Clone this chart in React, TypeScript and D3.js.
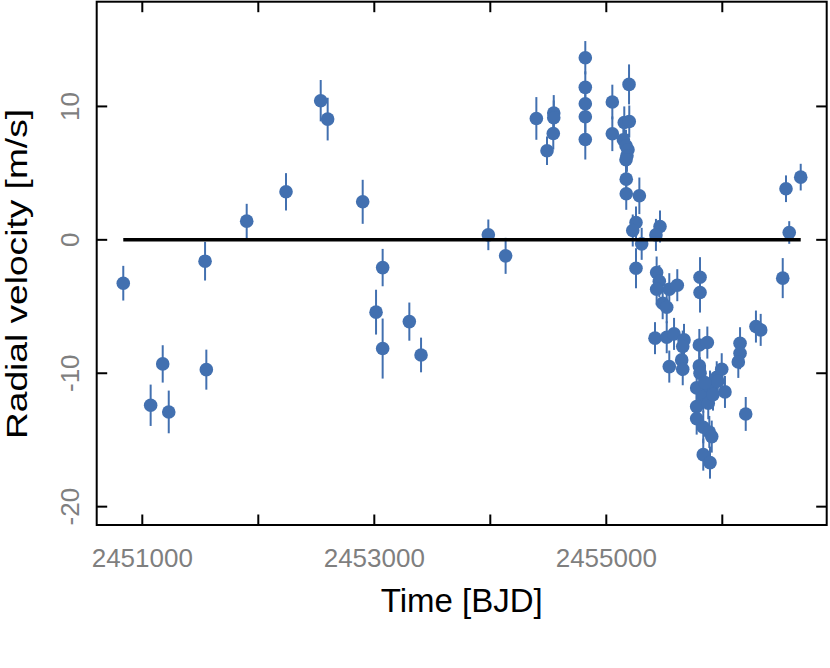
import React from "react";
import * as d3 from "d3";

// Observations: time [BJD], radial velocity [m/s], uncertainty [m/s]
const times: number[] = [
  2450836, 2451072, 2451176, 2451228, 2451541, 2451552, 2451900, 2452239, 2452538, 2452598,
  2452900, 2453015, 2453072, 2453072, 2453302, 2453403, 2453983, 2454132, 2454397, 2454489,
  2454547, 2454547, 2454543, 2454819, 2454819, 2454819, 2454819, 2454819, 2455052, 2455052,
  2455196, 2455155, 2455198, 2455147, 2455170, 2455187, 2455178, 2455170, 2455172, 2455172,
  2455285, 2455256, 2455228, 2455305, 2455463, 2455428, 2455256, 2455434, 2455457, 2455434,
  2455543, 2455612, 2455486, 2455521, 2455808, 2455808, 2455420, 2455521, 2455584, 2455670,
  2455659, 2455802, 2455871, 2455650, 2455543, 2455659, 2455802, 2455808, 2455779, 2455836,
  2455894, 2455952, 2455995, 2456023, 2455779, 2455879, 2455779, 2455836, 2455888, 2455909,
  2455836, 2455894, 2456202, 2456153, 2456153, 2456138, 2456290, 2456331, 2456549, 2456676,
  2456577, 2456521, 2455961, 2455850, 2455920,
];
const velocities: number[] = [
  -3.25, -12.4, -9.3, -12.9, -1.6, -9.73, 1.4, 3.6, 10.43, 9.05,
  2.85, -5.42, -2.08, -8.15, -6.13, -8.63, 0.375, -1.2, 9.1, 6.68,
  9.5, 9.15, 7.97, 13.65, 11.43, 10.2, 9.23, 7.52, 10.33, 7.95,
  11.65, 8.8, 8.87, 7.5, 7.05, 6.75, 6.3, 6.0, 4.55, 3.45,
  3.3, 1.3, 0.7, -0.3, 1.0, 0.37, -2.13, -2.45, -3.1, -3.7,
  -3.7, -3.4, -4.75, -5.05, -2.8, -3.95, -7.37, -7.3, -7.05, -7.5,
  -8.0, -7.88, -7.7, -9.0, -9.5, -9.7, -9.45, -10.0, -11.1, -11.75,
  -11.0, -10.3, -9.7, -11.4, -12.5, -12.25, -13.4, -14.05, -14.4, -14.75,
  -16.1, -16.7, -13.05, -7.75, -8.5, -9.15, -6.5, -6.75, 3.83, 4.7,
  0.55, -2.87, -10.6, -10.7, -11.6,
];
const errors: number[] = [
  1.3, 1.55, 1.4, 1.6, 1.45, 1.5, 1.3, 1.4, 1.55, 1.6,
  1.65, 1.68, 1.4, 2.25, 1.43, 1.3, 1.15, 1.35, 1.6, 1.07,
  1.35, 1.3, 1.2, 1.25, 1.2, 1.2, 1.2, 1.5, 1.3, 1.3,
  1.5, 1.2, 1.2, 1.2, 1.2, 1.2, 1.2, 1.2, 1.2, 1.2,
  1.37, 1.2, 1.2, 1.2, 1.2, 1.2, 1.5, 1.2, 1.2, 1.2,
  1.2, 1.2, 1.2, 1.2, 1.5, 1.5, 1.2, 1.2, 1.2, 1.2,
  1.2, 1.2, 1.2, 1.2, 1.2, 1.2, 1.2, 1.2, 1.2, 1.2,
  1.2, 1.2, 1.2, 1.2, 1.2, 1.2, 1.2, 1.2, 1.2, 1.2,
  1.2, 1.2, 1.27, 1.2, 1.2, 1.2, 1.2, 1.2, 1.0, 1.0,
  0.85, 1.5, 1.2, 1.2, 1.2,
];

const xTicks: number[] = [2451000, 2452000, 2453000, 2454000, 2455000, 2456000];
const xTickLabels: number[] = [2451000, 2453000, 2455000];
const yTicks: number[] = [-20, -10, 0, 10];
const modelLevel = 0;

const W = 830;
const H = 668;
const left = 96.7;
const right = 826.7;
const top = 1.7;
const bottom = 525;

const FONT = "'Liberation Sans', Arial, Helvetica, sans-serif";
const BLUE = "#4270b0";
const GREY = "#7f7f7f";

export default function App() {
  const tMin = d3.min(times) as number;
  const tMax = d3.max(times) as number;
  const x = d3.scaleLinear().domain([2450606.9, 2456900]).range([left, right]);
  const y = d3.scaleLinear().domain([-21.375, 17.85]).range([bottom, top]);
  const tickLen = 10.5;

  return (
    <svg
      width={W}
      height={H}
      style={{ position: "absolute", left: 0, top: 0, background: "#fff" }}
      xmlns="http://www.w3.org/2000/svg"
    >
      <rect x={0} y={0} width={W} height={H} fill="#fff" />
      {/* error bars */}
      {times.map((t, i) => (
        <line
          key={"e" + i}
          x1={x(t)}
          x2={x(t)}
          y1={y(velocities[i] - errors[i])}
          y2={y(velocities[i] + errors[i])}
          stroke={BLUE}
          strokeWidth={2}
        />
      ))}
      {/* points */}
      {times.map((t, i) => (
        <circle key={"p" + i} cx={x(t)} cy={y(velocities[i])} r={6.8} fill={BLUE} />
      ))}
      {/* model line */}
      <line
        x1={x(tMin)}
        x2={x(tMax)}
        y1={y(modelLevel)}
        y2={y(modelLevel)}
        stroke="#000"
        strokeWidth={3.5}
      />
      {/* frame */}
      <rect
        x={left}
        y={top}
        width={right - left}
        height={bottom - top}
        fill="none"
        stroke="#000"
        strokeWidth={2}
      />
      {/* x ticks (inward, bottom & top) */}
      {xTicks.map((t) => (
        <g key={"xt" + t}>
          <line x1={x(t)} x2={x(t)} y1={bottom} y2={bottom - tickLen} stroke="#000" strokeWidth={2} />
          <line x1={x(t)} x2={x(t)} y1={top} y2={top + tickLen} stroke="#000" strokeWidth={2} />
        </g>
      ))}
      {xTickLabels.map((t) => (
        <text
          key={"xl" + t}
          x={x(t)}
          y={567}
          textAnchor="middle"
          fontFamily={FONT}
          fontSize={26}
          fill={GREY}
        >
          {String(t)}
        </text>
      ))}
      {/* y ticks (inward, left & right) */}
      {yTicks.map((v) => (
        <g key={"yt" + v}>
          <line x1={left} x2={left + tickLen} y1={y(v)} y2={y(v)} stroke="#000" strokeWidth={2} />
          <line x1={right} x2={right - tickLen} y1={y(v)} y2={y(v)} stroke="#000" strokeWidth={2} />
        </g>
      ))}
      {yTicks.map((v) => (
        <text
          key={"yl" + v}
          transform={`translate(79,${y(v)}) rotate(-90)`}
          textAnchor="middle"
          fontFamily={FONT}
          fontSize={26}
          fill={GREY}
        >
          {v < 0 ? "-" + Math.abs(v) : String(v)}
        </text>
      ))}
      {/* axis titles */}
      <text
        x={(left + right) / 2}
        y={612}
        textAnchor="middle"
        fontFamily={FONT}
        fontSize={33}
        fill="#000"
      >
        Time [BJD]
      </text>
      <text
        transform={`translate(27,274) rotate(-90)`}
        textAnchor="middle"
        fontFamily={FONT}
        fontSize={30}
        fill="#000"
        textLength={330}
        lengthAdjust="spacingAndGlyphs"
      >
        Radial velocity [m/s]
      </text>
    </svg>
  );
}
